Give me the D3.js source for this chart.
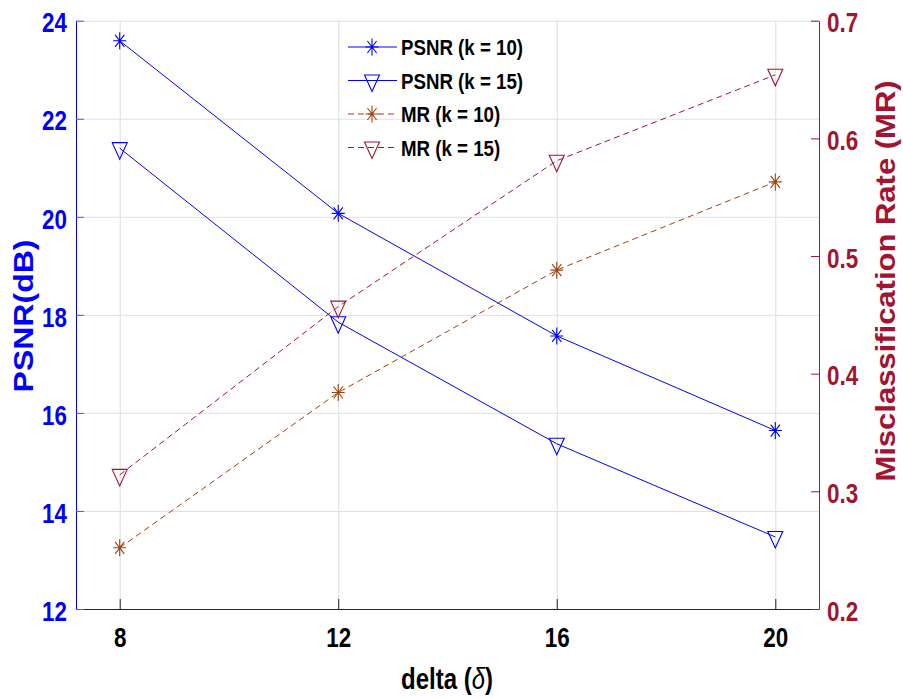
<!DOCTYPE html>
<html>
<head>
<meta charset="utf-8">
<script src="https://d3js.org/d3.v7.min.js"></script>
<style>
body{margin:0;background:#fff}
svg{display:block}
text{font-family:'Liberation Sans',Arial,sans-serif;font-weight:bold}
</style>
</head>
<body>
<svg id="chart" width="903" height="698"></svg>
<script>
// values
const deltas = [8, 12, 16, 20];
const psnrK10 = [23.59, 20.07, 17.57, 15.64];
const psnrK15 = [21.40, 17.85, 15.37, 13.47];
const mrK10 = [0.252, 0.384, 0.488, 0.563];
const mrK15 = [0.314, 0.457, 0.581, 0.654];
const xTicks = [8, 12, 16, 20];
const psnrTicks = [12, 14, 16, 18, 20, 22, 24];
const mrTicks = [0.2, 0.3, 0.4, 0.5, 0.6, 0.7];
const legendNames = ["PSNR (k = 10)", "PSNR (k = 15)", "MR (k = 10)", "MR (k = 15)"];

const BLUE = "#0000ff", BROWN = "#a2410f", CRIMSON = "#a2142f";
const SQ = 0.8; // text in the picture is squeezed sideways

const svg = d3.select("#chart");
const pLeft = 76, pRight = 819, pTop = 20.7, pBottom = 609;

const x = d3.scaleLinear().domain([7.2, 20.8]).range([pLeft, pRight]);
const yL = d3.scaleLinear().domain([12, 24]).range([pBottom, pTop]);
const yR = d3.scaleLinear().domain([0.2, 0.7]).range([pBottom, pTop]);

// grid
svg.append("g")
    .attr("transform", `translate(0,${pBottom})`)
    .call(d3.axisBottom(x).tickValues(xTicks).tickSize(-(pBottom - pTop)).tickFormat(""))
    .call(g => g.select(".domain").remove())
    .selectAll("line").attr("stroke", "#dcdcdc");
svg.append("g")
    .attr("transform", `translate(${pLeft},0)`)
    .call(d3.axisLeft(yL).tickValues(psnrTicks).tickSize(-(pRight - pLeft)).tickFormat(""))
    .call(g => g.select(".domain").remove())
    .selectAll("line").attr("stroke", "#dedefc");

// series
const series = [
  {vals: psnrK10, y: yL, color: BLUE, dash: null, mark: "star"},
  {vals: psnrK15, y: yL, color: BLUE, dash: null, mark: "tri"},
  {vals: mrK10, y: yR, color: BROWN, dash: "6,4", mark: "star"},
  {vals: mrK15, y: yR, color: CRIMSON, dash: "6,4", mark: "tri"}
];
const markPath = {
  star: "M-6.5,0H6.5M0,-8.5V8.5M-4.6,-6L4.6,6M-4.6,6L4.6,-6",
  tri: "M-7.5,-5.5L7.5,-5.5L0,11Z"
};

series.forEach(s => {
  const line = d3.line().x((d, i) => x(deltas[i])).y(d => s.y(d));
  svg.append("path")
      .attr("d", line(s.vals))
      .attr("fill", "none")
      .attr("stroke", s.color)
      .attr("stroke-width", 1)
      .attr("stroke-dasharray", s.dash);
  svg.append("g").selectAll("path")
      .data(s.vals)
      .join("path")
      .attr("transform", (d, i) => `translate(${x(deltas[i])},${s.y(d)})`)
      .attr("d", markPath[s.mark])
      .attr("fill", "none")
      .attr("stroke", s.color)
      .attr("stroke-width", 1.1);
});

// axes
const gx = svg.append("g")
    .attr("transform", `translate(0,${pBottom})`)
    .call(d3.axisBottom(x).tickValues(xTicks).tickSizeInner(-10).tickSizeOuter(0).tickFormat(d3.format("d")));
gx.select(".domain").attr("stroke", "#262626");
gx.selectAll("line").attr("stroke", "#262626");
gx.selectAll("text")
    .attr("y", null).attr("dy", null)
    .attr("transform", `translate(0,38) scale(${SQ},1)`)
    .attr("fill", "#000").attr("font-size", 28).attr("font-family", null);

const gl = svg.append("g")
    .attr("transform", `translate(${pLeft},0)`)
    .call(d3.axisLeft(yL).tickValues(psnrTicks).tickSizeInner(-8).tickSizeOuter(0));
gl.select(".domain").attr("stroke", BLUE);
gl.selectAll("line").attr("stroke", "#5050ff");
gl.selectAll("text")
    .attr("x", null).attr("dy", "0.4em")
    .attr("transform", `translate(-9,0) scale(${SQ},1)`)
    .attr("fill", BLUE).attr("font-size", 28).attr("font-family", null);

const gr = svg.append("g")
    .attr("transform", `translate(${pRight},0)`)
    .call(d3.axisRight(yR).tickValues(mrTicks).tickSizeInner(-8).tickSizeOuter(0).tickFormat(d3.format(".1f")));
gr.select(".domain").attr("stroke", CRIMSON);
gr.selectAll("line").attr("stroke", CRIMSON);
gr.selectAll("text")
    .attr("x", null).attr("dy", "0.4em")
    .attr("transform", `translate(8,0) scale(${SQ},1)`)
    .attr("fill", CRIMSON).attr("font-size", 28).attr("font-family", null);

// axis titles
const xt = svg.append("text")
    .attr("transform", `translate(447,689) scale(${SQ},1)`)
    .attr("text-anchor", "middle").attr("font-size", 30);
xt.append("tspan").text("delta (");
xt.append("tspan").attr("font-style", "italic").attr("font-weight", "normal").text("δ");
xt.append("tspan").text(")");

svg.append("text")
    .attr("transform", "translate(33,316) rotate(-90) scale(1,0.85)")
    .attr("text-anchor", "middle").attr("font-size", 32).attr("fill", BLUE)
    .text("PSNR(dB)");
svg.append("text")
    .attr("transform", "translate(895,281) rotate(-90) scale(1,0.88)")
    .attr("text-anchor", "middle").attr("font-size", 31).attr("fill", CRIMSON)
    .text("Misclassification Rate (MR)");

// legend
const legendY = [47, 80.5, 114, 147.5];
const lg = svg.append("g").selectAll("g")
    .data(series)
    .join("g")
    .attr("transform", (d, i) => `translate(0,${legendY[i]})`);
lg.append("line")
    .attr("x1", 348).attr("x2", 397)
    .attr("stroke", d => d.color).attr("stroke-width", 1)
    .attr("stroke-dasharray", d => d.dash);
lg.append("path")
    .attr("transform", "translate(372,0)")
    .attr("d", d => markPath[d.mark])
    .attr("fill", "none").attr("stroke", d => d.color).attr("stroke-width", 1.1);
lg.append("text")
    .attr("transform", "translate(401,8) scale(0.85,1)")
    .attr("font-size", 22).attr("fill", "#000")
    .text((d, i) => legendNames[i]);
</script>
</body>
</html>
